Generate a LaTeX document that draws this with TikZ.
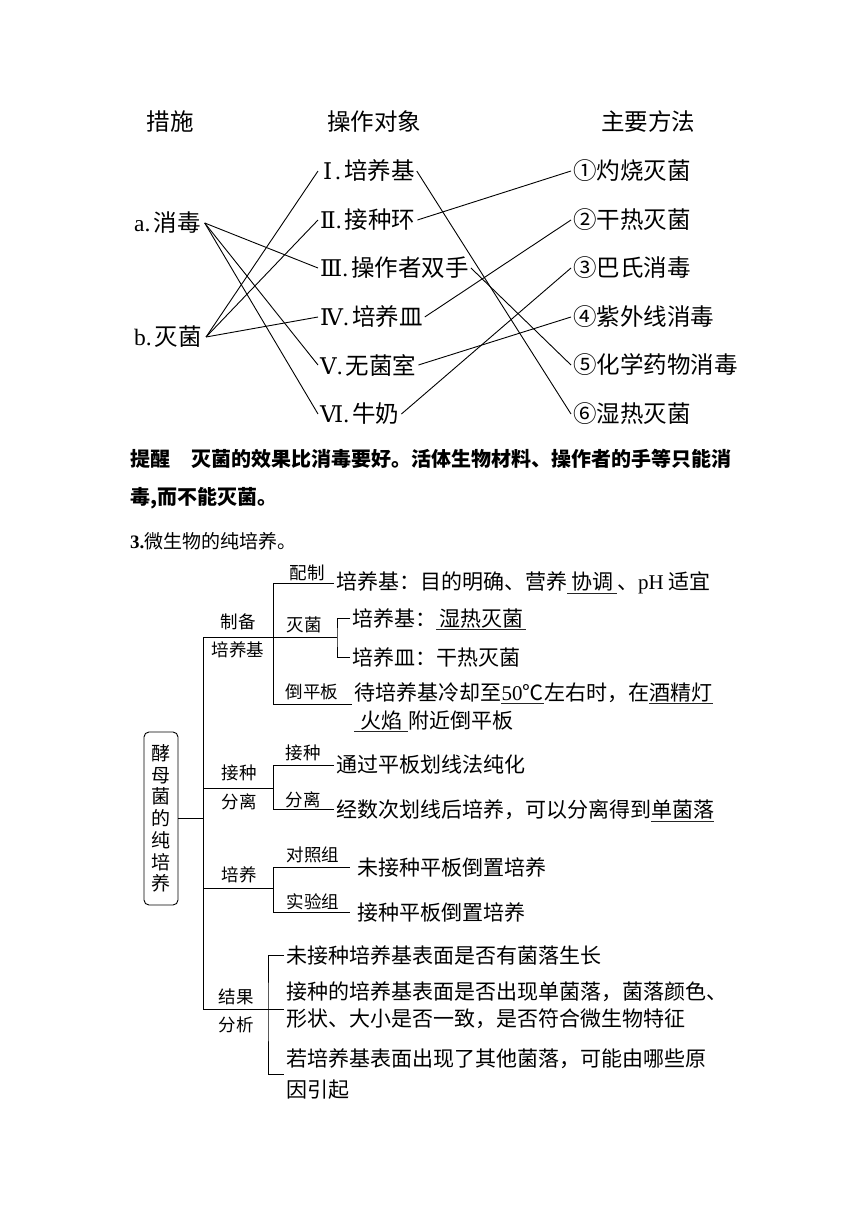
\documentclass[tikz,border=0pt]{standalone}
\usepackage{fontspec}
\setmainfont{Liberation Serif}
\newfontfamily\cjk{Noto Sans CJK SC}
\newfontfamily\latf{Liberation Serif}
\newfontfamily\romf{DejaVu Serif}
\newcommand{\lsr}[1]{{\latf #1}}
\newsavebox{\rmbx}
\newcommand{\rmn}[1]{\sbox{\rmbx}{\romf\fontsize{23}{26}\selectfont #1}\ifdim\wd\rmbx<15pt\makebox[15pt][c]{\usebox{\rmbx}}\else\usebox{\rmbx}\fi\lsr{.}\hspace{3pt}}
\newsavebox{\ulbx}
\newcommand{\myul}[2][4pt]{\sbox{\ulbx}{\hspace{#1}#2\hspace{#1}}\makebox[0pt][l]{\raisebox{-3.8pt}[0pt][0pt]{\color{black!85}\rule{\wd\ulbx}{0.9pt}}}\usebox{\ulbx}}
\tikzset{
  hd/.style={font=\cjk\fontsize{23.5}{28}\selectfont, inner sep=0pt},
  itm/.style={font=\cjk\fontsize{23.5}{28}\selectfont, inner xsep=2pt, inner ysep=0pt, anchor=west},
  ln/.style={line width=0.9pt},
  lab/.style={font=\cjk\fontsize{17.5}{21}\selectfont, inner sep=0pt},
  tx/.style={font=\cjk\fontsize{21}{26}\selectfont, inner xsep=2pt, inner ysep=0pt, anchor=west},
}
\begin{document}
\begin{tikzpicture}[x=1pt,y=-1pt]
\path[use as bounding box, fill=white] (0,0) rectangle (860,1216);

% ---------- top matching diagram ----------
\node[hd] (h1) at (170,122) {措施};
\node[hd] (h2) at (374,122) {操作对象};
\node[hd] (h3) at (648,122) {主要方法};

\node[itm, inner xsep=4pt] (a) at (130,223) {\lsr{a.}\hspace{3pt}消毒};
\node[itm, inner xsep=4pt] (b) at (130,337) {\lsr{b.}\hspace{3pt}灭菌};

\node[itm] (m1) at (318,171) {\rmn{Ⅰ}培养基};
\node[itm] (m2) at (318,220) {\rmn{Ⅱ}接种环};
\node[itm] (m3) at (318,268) {\rmn{Ⅲ}操作者双手};
\node[itm] (m4) at (318,317) {\rmn{Ⅳ}培养皿};
\node[itm] (m5) at (318,365) {\rmn{Ⅴ}无菌室};
\node[itm] (m6) at (318,414) {\rmn{Ⅵ}牛奶};

\node[itm] (r1) at (571,171) {①灼烧灭菌};
\node[itm] (r2) at (571,220) {②干热灭菌};
\node[itm] (r3) at (571,268) {③巴氏消毒};
\node[itm] (r4) at (571,317) {④紫外线消毒};
\node[itm] (r5) at (571,365) {⑤化学药物消毒};
\node[itm] (r6) at (571,414) {⑥湿热灭菌};

\draw[ln] (a.east) -- (m3.west);
\draw[ln] (a.east) -- (m5.west);
\draw[ln] (a.east) -- (m6.west);
\draw[ln] (b.east) -- (m1.west);
\draw[ln] (b.east) -- (m2.west);
\draw[ln] (b.east) -- (m4.west);
\draw[ln] (m1.east) -- (r6.west);
\draw[ln] (m2.east) -- (r1.west);
\draw[ln] (m3.east) -- (r5.west);
\draw[ln] (m4.east) -- (r2.west);
\draw[ln] (m5.east) -- (r4.west);
\draw[ln] (m6.east) -- (r3.west);

% ---------- hint text ----------
\node[anchor=west, inner sep=0pt, font=\cjk\bfseries\fontsize{20}{24}\selectfont] (tip1) at (130,459)
  {提醒\hspace{21pt}灭菌的效果比消毒要好。活体生物材料、操作者的手等只能消};
\node[anchor=west, inner sep=0pt, font=\cjk\bfseries\fontsize{20}{24}\selectfont] (tip2) at (130,498)
  {毒,而不能灭菌。};
\node[anchor=west, inner sep=0pt, font=\cjk\fontsize{19}{23}\selectfont] (sec3) at (130,541)
  {{\latf\bfseries 3.}微生物的纯培养。};

% ---------- tree ----------
\node[draw, line width=0.9pt, rounded corners=5pt, minimum width=34pt, minimum height=173pt,
      inner sep=0pt, align=center, font=\cjk\fontsize{19}{21.7}\selectfont] (root) at (161,818.5)
  {酵\\母\\菌\\的\\纯\\培\\养};

\coordinate (t1) at (203,637);
\coordinate (t2) at (203,788);
\coordinate (t3) at (203,888);
\coordinate (t4) at (203,1009);
\draw[ln] (t1) -- (t4);
\draw[ln] (root.east) -- (root.east -| t1);

% branch 1: 制备培养基
\coordinate (s1) at (273,637);
\coordinate (s1a) at (273,583);
\coordinate (s1c) at (273,704);
\coordinate (bk1) at (337,637);
\draw[ln] (t1) -- (s1);
\draw[ln] (s1a) -- (s1c);
\node[lab] (l1a) at (238,622) {制备};
\node[lab] (l1b) at (238,650) {培养基};
\node[lab] (l11) at (307,573) {配制};
\node[lab] (l12) at (304,625) {灭菌};
\node[lab] (l13) at (312,692) {倒平板};

\node[tx] (p1) at (334,583) {培养基：目的明确、营养\myul{协调}、\lsr{pH} 适宜};
\draw[ln] (s1a) -- (p1.west);

\node[tx] (bm1) at (350,618) {培养基：\myul[3pt]{湿热灭菌}};
\node[tx] (bm2) at (350,657) {培养皿：干热灭菌};
\draw[ln] (s1) -- (bk1);
\draw[ln] (bm1.west) -| (bk1) |- (bm2.west);

\node[tx, align=left, font=\cjk\fontsize{21}{28}\selectfont] (d1) at (352,706)
  {待培养基冷却至\myul[0.5pt]{\lsr{50}℃}左右时，在\myul[0.5pt]{酒精灯}\\\myul[6pt]{火焰}附近倒平板};
\draw[ln] (s1c) -- (s1c -| d1.west);

% branch 2: 接种分离
\coordinate (s2) at (273,788);
\coordinate (s2a) at (273,765);
\coordinate (s2b) at (273,809);
\draw[ln] (t2) -- (s2);
\draw[ln] (s2a) -- (s2b);
\node[lab] (l2a) at (239,773) {接种};
\node[lab] (l2b) at (239,802) {分离};
\node[lab] (l21) at (303,753) {接种};
\node[lab] (l22) at (303,800) {分离};
\node[tx] (j1) at (334,765) {通过平板划线法纯化};
\node[tx] (j2) at (334,810) {经数次划线后培养，可以分离得到\myul[0pt]{单菌落}};
\draw[ln] (s2a) -- (j1.west);
\draw[ln] (s2b) -- (s2b -| j2.west);

% branch 3: 培养
\coordinate (s3) at (273,888);
\coordinate (s3a) at (273,867);
\coordinate (s3b) at (273,912);
\draw[ln] (t3) -- (s3);
\draw[ln] (s3a) -- (s3b);
\node[lab] (l3a) at (239,875) {培养};
\node[lab] (l31) at (313,855) {对照组};
\node[lab] (l32) at (313,902) {实验组};
\node[tx, inner xsep=7pt] (c1) at (350,867) {未接种平板倒置培养};
\node[tx, inner xsep=7pt] (c2) at (350,912) {接种平板倒置培养};
\draw[ln] (s3a) -- (c1.west);
\draw[ln] (s3b) -- (c2.west);

% branch 4: 结果分析
\coordinate (bk4) at (268,1009);
\node[lab] (l4a) at (236,997) {结果};
\node[lab] (l4b) at (236,1025) {分析};
\node[tx] (k1) at (284,955) {未接种培养基表面是否有菌落生长};
\node[tx, align=left, font=\cjk\fontsize{21}{26.5}\selectfont] (k2) at (284,1005)
  {接种的培养基表面是否出现单菌落，菌落颜色、\\形状、大小是否一致，是否符合微生物特征};
\node[tx, align=left, font=\cjk\fontsize{21}{31.7}\selectfont] (k3) at (284,1074)
  {若培养基表面出现了其他菌落，可能由哪些原\\因引起};
\draw[ln] (t4) -- (t4 -| k2.west);
\draw[ln] (k1.west) -| (bk4) |- (k3.west);
\end{tikzpicture}
\end{document}
